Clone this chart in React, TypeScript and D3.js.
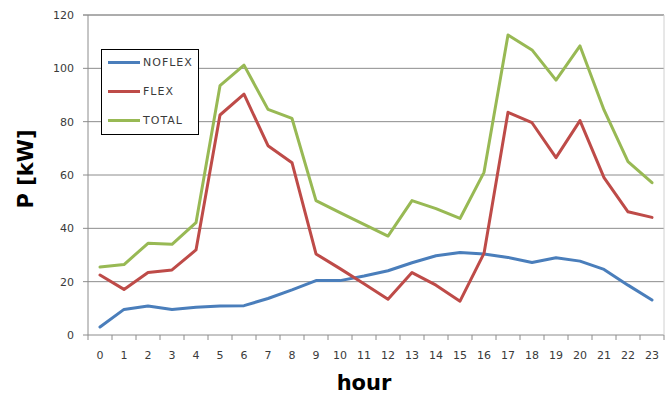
import React from "react";
import * as d3 from "d3";

const hours = d3.range(0, 24);
const noflex = [3, 9.6, 10.9, 9.6, 10.4, 10.9, 11, 13.7, 16.9, 20.4, 20.4, 22.1, 24.1, 27.1, 29.7, 30.9, 30.4, 29.1, 27.2, 29, 27.7, 24.6, 18.7, 13.1];
const flex = [22.5, 17.1, 23.4, 24.4, 31.9, 82.5, 90.3, 71, 64.6, 30.4, 24.9, 19.2, 13.4, 23.4, 18.7, 12.7, 30.6, 83.5, 79.6, 66.5, 80.4, 59, 46.2, 44.1];
const total = [25.5, 26.4, 34.4, 34, 42.1, 93.5, 101.2, 84.6, 81.2, 50.4, 45.9, 41.5, 37.1, 50.4, 47.4, 43.7, 61, 112.5, 106.9, 95.6, 108.4, 84.4, 65, 57.1];
const yTicks = [0, 20, 40, 60, 80, 100, 120];

const series = [
  { name: "NOFLEX", values: noflex, color: "#4A7EBB" },
  { name: "FLEX", values: flex, color: "#BE4B48" },
  { name: "TOTAL", values: total, color: "#98B954" },
];

const W = 665;
const H = 396;
const left = 88;
const right = 664;
const top = 15;
const bottom = 335;

export default function App() {
  const x = d3.scaleBand<number>().domain(hours).range([left, right]);
  const y = d3.scaleLinear().domain([0, 120]).range([bottom, top]);
  const line = (vals: number[]) =>
    d3
      .line<number>()
      .x((_, i) => (x(hours[i]) as number) + x.bandwidth() / 2)
      .y((v) => y(v))(vals) as string;

  const font = "'DejaVu Sans', sans-serif";
  const textColor = "#3a3a3a";

  return (
    <svg
      width={W}
      height={H}
      style={{ position: "absolute", left: 0, top: 0, background: "#fff" }}
    >
      {/* horizontal gridlines */}
      {yTicks.map((t) => (
        <g key={t}>
          <line
            x1={left - 5}
            x2={right}
            y1={y(t)}
            y2={y(t)}
            stroke={t === 120 ? "#5a5a5a" : "#8c8c8c"}
            strokeWidth={1}
          />
          <text
            x={74}
            y={y(t)}
            dy="0.35em"
            textAnchor="end"
            fontFamily={font}
            fontSize={11}
            fill={textColor}
          >
            {t}
          </text>
        </g>
      ))}
      {/* plot border */}
      <line x1={right} x2={right} y1={top} y2={bottom} stroke="#d0d0d0" />
      <line x1={left} x2={left} y1={top} y2={bottom} stroke="#8c8c8c" />
      {/* category tick marks */}
      {d3.range(0, 25).map((k) => (
        <line
          key={k}
          x1={left + k * x.step()}
          x2={left + k * x.step()}
          y1={bottom}
          y2={bottom + 5}
          stroke="#8c8c8c"
        />
      ))}
      {hours.map((h) => (
        <text
          key={h}
          x={(x(h) as number) + x.bandwidth() / 2}
          y={359}
          textAnchor="middle"
          fontFamily={font}
          fontSize={11}
          fill={textColor}
        >
          {h}
        </text>
      ))}
      {/* series */}
      {series.map((s) => (
        <path
          key={s.name}
          d={line(s.values)}
          fill="none"
          stroke={s.color}
          strokeWidth={3}
          strokeLinejoin="round"
          strokeLinecap="round"
        />
      ))}
      {/* legend */}
      <rect x={101.5} y={49.5} width={97} height={85} fill="#fff" stroke="#000" strokeWidth={1} />
      {series.map((s, i) => (
        <g key={s.name}>
          <line
            x1={108}
            x2={140}
            y1={62.5 + i * 29}
            y2={62.5 + i * 29}
            stroke={s.color}
            strokeWidth={3}
          />
          <text
            x={143}
            y={62.5 + i * 29}
            dy="0.36em"
            fontFamily={font}
            fontSize={11}
            letterSpacing={1}
            fill={textColor}
          >
            {s.name}
          </text>
        </g>
      ))}
      {/* axis titles */}
      <text
        transform={`translate(33,169) rotate(-90)`}
        textAnchor="middle"
        fontFamily={font}
        fontWeight="bold"
        fontSize={21}
        fill="#000"
      >
        P [kW]
      </text>
      <text
        x={364}
        y={390}
        textAnchor="middle"
        fontFamily={font}
        fontWeight="bold"
        fontSize={21}
        fill="#000"
      >
        hour
      </text>
    </svg>
  );
}
